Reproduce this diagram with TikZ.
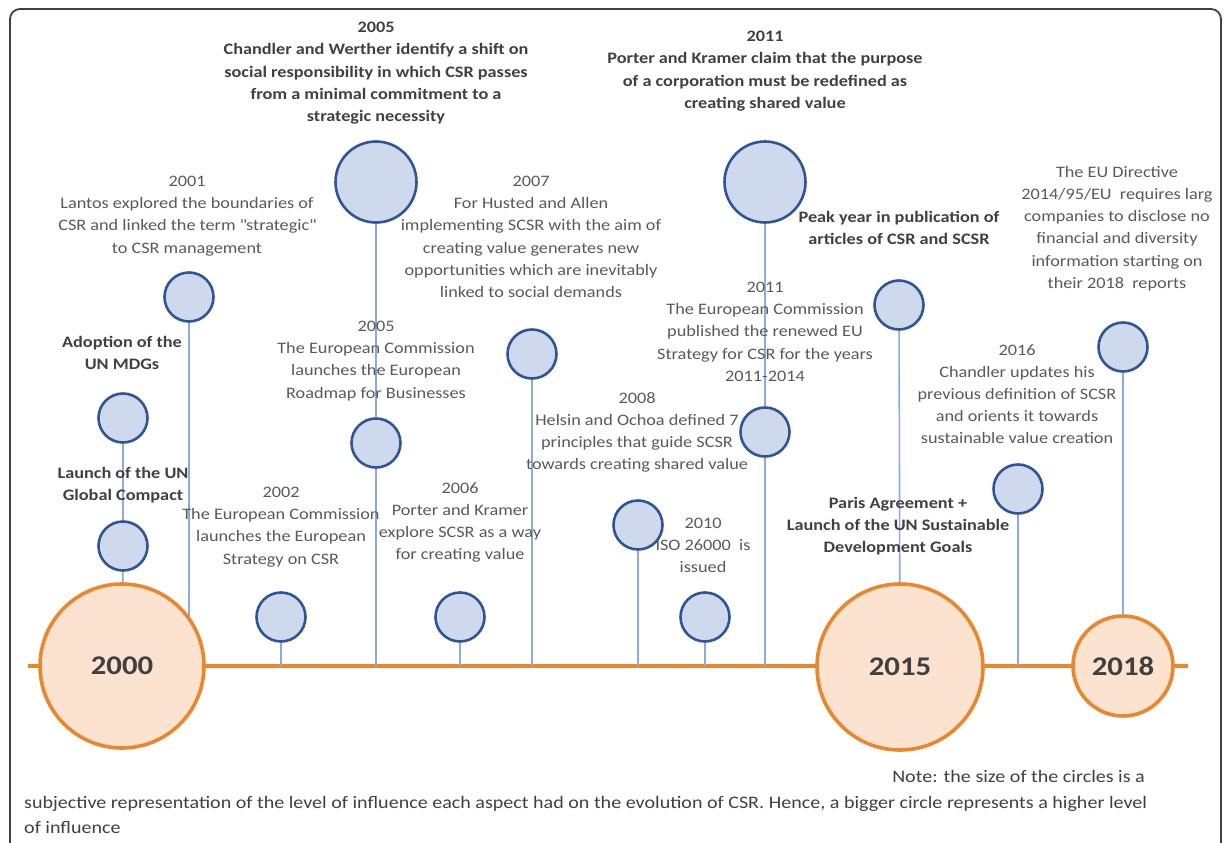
\documentclass[tikz,border=0pt]{standalone}
\usepackage{fontspec}
\setmainfont{Carlito}[FakeStretch=1.14]
\usetikzlibrary{backgrounds}
\definecolor{csrorange}{HTML}{E9862E}
\definecolor{csrpeach}{HTML}{FBE3D0}
\definecolor{csrnavy}{HTML}{2F5597}
\definecolor{csrsky}{HTML}{CFD9EE}
\definecolor{csrstem}{HTML}{8EA9DB}
\definecolor{csrtext}{HTML}{595959}
\definecolor{csrdark}{HTML}{404040}

\begin{document}
\begin{tikzpicture}[x=1pt, y=-1pt,
  event/.style={circle, draw=csrnavy, fill=csrsky, line width=2.6pt, minimum size=#1, inner sep=0pt},
  event/.default=49pt,
  milestone/.style={circle, draw=csrorange, fill=csrpeach, line width=3.6pt, minimum size=#1,
    inner sep=0pt, text=csrdark, font=\fontsize{27}{30}\selectfont\bfseries},
  stem/.style={csrstem, line width=1.6pt},
  timeline/.style={csrorange, line width=4.6pt},
  note/.style={align=center, inner sep=0pt, anchor=north, text=csrtext, font=\fontsize{16}{22.2}\selectfont},
  keynote/.style={note, text=csrdark, font=\fontsize{16}{22.2}\selectfont\bfseries},
  legend/.style={inner sep=0pt, text=csrdark, font=\fontsize{17.6}{20}\selectfont}]
  \useasboundingbox (0,0) rectangle (1224,843);
  % frame, open at the bottom
  \draw[csrdark, line width=1.8pt, rounded corners=10pt] (10,850) -- (10,9) -- (1221,9) -- (1221,850);

  % the years on the line
  \node[milestone=164pt] (y2000) at (122,666) {2000};
  \node[milestone=166pt] (y2015) at (900,667) {2015};
  \node[milestone=100pt] (y2018) at (1123,666) {2018};
  \coordinate (tlL) at (28,666);
  \coordinate (tlR) at (1188,666);

  % events
  \node[event] (mdg) at (123,418) {};
  \node[event] (gc) at (123,546) {};
  \node[event] (c2001) at (189,297) {};
  \node[event] (c2002) at (281,617) {};
  \node[event=81pt] (c2005a) at (376,182) {};
  \node[event] (c2005b) at (376,443) {};
  \node[event] (c2006) at (460,617) {};
  \node[event] (c2007) at (532,354) {};
  \node[event] (c2008) at (638,525) {};
  \node[event] (c2010) at (705,617) {};
  \node[event=81pt] (c2011a) at (765,182) {};
  \node[event] (c2011b) at (765,432) {};
  \node[event] (peak) at (899,305) {};
  \node[event] (c2016) at (1018,489) {};
  \node[event] (c2018) at (1123,347) {};

  % stems and line go under the circles
  \begin{scope}[on background layer]
    \draw[timeline] (tlL) -- (tlR);
    \draw[stem] (y2000) -- (gc) -- (mdg);
    \foreach \c in {c2001,c2002,c2006,c2007,c2008,c2010,c2016}
      \draw[stem] (\c) -- (\c |- tlL);
    \draw[stem] (c2005a) -- (c2005b) -- (c2005b |- tlL);
    \draw[stem] (c2011a) -- (c2011b) -- (c2011b |- tlL);
    \draw[stem] (peak) -- (y2015);
    \draw[stem] (c2018) -- (y2018);
  \end{scope}

  % labels
  \node[keynote] (t2005a) at (376,22) {2005\\Chandler and Werther identify a shift on\\social responsibility in which CSR passes\\from a minimal commitment to a\\strategic necessity};
  \node[keynote] (t2011a) at (765,31) {2011\\Porter and Kramer claim that the purpose\\of a corporation must be redefined as\\creating shared value};
  \node[note] (t2001) at (187,176) {2001\\Lantos explored the boundaries of\\CSR and linked the term \textquotedbl strategic\textquotedbl\\to CSR management};
  \node[note] (t2007) at (531,176) {2007\\For Husted and Allen\\implementing SCSR with the aim of\\creating value generates new\\opportunities which are inevitably\\linked to social demands};
  \node[keynote] (tpeak) at (899,211) {Peak year in publication of\\articles of CSR and SCSR};
  \node[note] (t2018) at (1117,166) {The EU Directive\\2014/95/EU\ \ requires larg\\companies to disclose no\\financial and diversity\\information starting on\\their 2018\ \ reports};
  \node[note] (t2005b) at (376,321) {2005\\The European Commission\\launches the European\\Roadmap for Businesses};
  \node[keynote] (tmdg) at (122,336) {Adoption of the\\UN MDGs};
  \node[note] (t2011b) at (765,282) {2011\\The European Commission\\published the renewed EU\\Strategy for CSR for the years\\2011-2014};
  \node[note] (t2016) at (1017,344) {2016\\Chandler updates his\\previous definition of SCSR\\and orients it towards\\sustainable value creation};
  \node[note] (t2008) at (637,392) {2008\\Helsin and Ochoa defined 7\\principles that guide SCSR\\towards creating shared value};
  \node[keynote] (tgc) at (123,467) {Launch of the UN\\Global Compact};
  \node[note] (t2002) at (281,487) {2002\\The European Commission\\launches the European\\Strategy on CSR};
  \node[note] (t2006) at (460,482) {2006\\Porter and Kramer\\explore SCSR as a way\\for creating value};
  \node[note] (t2010) at (703,518) {2010\\ISO 26000\ \ is\\issued};
  \node[keynote] (tparis) at (898,497) {Paris Agreement +\\Launch of the UN Sustainable\\Development Goals};

  % note under the picture
  \node[legend, anchor=base east] (n1) at (1145,782) {Note: the size of the circles is a};
  \node[legend, anchor=base west] (n2) at (24,808) {subjective representation of the level of influence each aspect had on the evolution of CSR. Hence, a bigger circle represents a higher level};
  \node[legend, anchor=base west] (n3) at (24,833) {of influence};
\end{tikzpicture}
\end{document}
